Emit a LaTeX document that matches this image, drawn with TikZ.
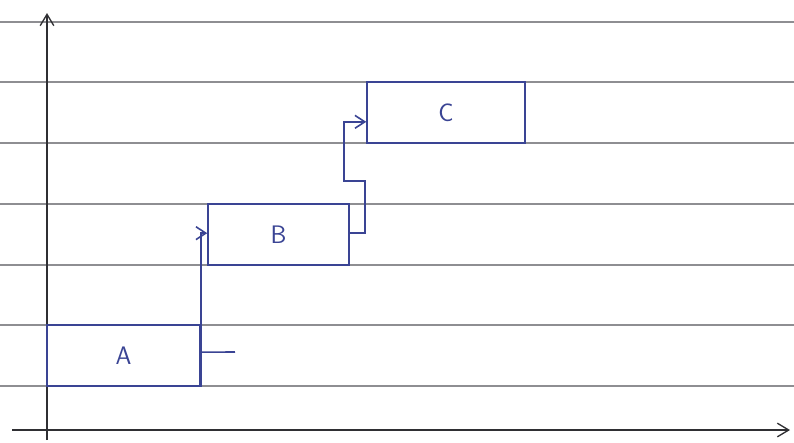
\documentclass[tikz,border=0pt]{standalone}
\usepackage{xcolor}
\usepackage{tikz}
\usetikzlibrary{arrows.meta,positioning,calc}
\definecolor{nbink}{HTML}{3A4494}
\definecolor{nbpen}{HTML}{2F2F33}
\definecolor{nbrule}{HTML}{8E8E92}
\tikzset{
  task/.style  = {rectangle, draw=nbink, line width=1.1pt, fill=none, inner sep=0pt,
                  minimum height=45.75pt, font=\sffamily\fontsize{19}{22}\selectfont, text=nbink},
  rule/.style  = {draw=nbrule, line width=1pt},
  axis/.style  = {-{Straight Barb[length=3mm,width=3.6mm]}, draw=nbpen, line width=1pt},
  flow/.style  = {-{Straight Barb[length=2.6mm,width=3.4mm]}, draw=nbink, line width=1.2pt},
  stub/.style  = {draw=nbink, line width=1.2pt},
}
\begin{document}
\begin{tikzpicture}[x=0.75pt,y=-0.75pt]
\useasboundingbox (0,0) rectangle (794,443);
% ruled paper
\foreach \y in {22,82,143,204,265,325,386}
  \draw[rule] (0,\y) -- (794,\y);
% axes
\coordinate (ybot) at (47,440); \coordinate (ytop) at (47,13);
\coordinate (xl) at (12,430); \coordinate (xr) at (790,430);
\draw[axis] (ybot) -- (ytop);
\draw[axis] (xl) -- (xr);
% tasks
\node[task, minimum width=114.75pt] (a) at (123.5,355.5) {A};
\node[task, minimum width=105.75pt] (b) at (278.5,234.5) {B};
\node[task, minimum width=118.5pt]  (c) at (446,112.5) {C};
\coordinate (tail) at (235,352);
\draw[stub] ([yshift=2.5pt]a.east) -- (tail);
\draw[flow] (a.south east) |- ([yshift=1pt]b.west);
\draw[flow] ([yshift=1pt]b.east) -- ++(15,0) -- ++(0,-52) -- ++(-21,0) |- ([yshift=-7pt]c.west);
\end{tikzpicture}
\end{document}
